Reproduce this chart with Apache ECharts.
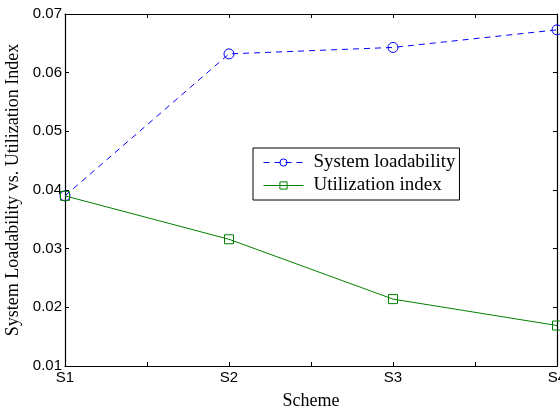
<!DOCTYPE html>
<html>
<head>
<meta charset="utf-8">
<script src="https://cdn.jsdelivr.net/npm/echarts@6/dist/echarts.min.js"></script>
<style>
  html, body { margin: 0; padding: 0; background: #fff; }
  #chart { width: 560px; height: 412px; }
</style>
</head>
<body>
<div id="chart"></div>
<script>
// scheme positions on the x axis and their labels
const schemes = [1, 2, 3, 4];
const schemeLabels = { 1: "S1", 2: "S2", 3: "S3", 4: "S4" };

// values
const loadability = [0.0390, 0.0632, 0.0643, 0.0673];
const utilization = [0.0390, 0.0316, 0.0214, 0.0169];

const chart = echarts.init(document.getElementById("chart"));

function pairs(xs, ys) {
  return xs.map((x, i) => [x, ys[i]]);
}

const axisLine = { show: true, onZero: false, lineStyle: { color: "#000", width: 1.2 } };
const tickInside = { show: true, inside: true, length: 4, lineStyle: { color: "#000" } };
const sansLabel = { fontFamily: "Liberation Sans", fontSize: 15, color: "#000" };
const serifName = { fontFamily: "Liberation Serif", fontSize: 18, color: "#000" };

const option = {
  animation: false,
  grid: { left: 65, right: 3, top: 14, bottom: 46, show: false, outerBoundsMode: "none", containLabel: false },
  legend: {
    orient: "vertical",
    left: 253,
    top: 148,
    itemWidth: 40,
    itemHeight: 9,
    itemGap: 4,
    padding: [5, 4, 5, 10],
    borderColor: "#000",
    borderWidth: 1,
    borderRadius: 0,
    backgroundColor: "#fff",
    lineStyle: { width: 1 },
    itemStyle: { borderWidth: 1 },
    textStyle: { fontFamily: "Liberation Serif", fontSize: 19, lineHeight: 18, color: "#000", padding: [0, 0, 0, 5] },
    data: ["System loadability", "Utilization index"]
  },
  xAxis: [
    {
      type: "value",
      min: 1,
      max: 4,
      interval: 0.5,
      name: "Scheme",
      nameLocation: "middle",
      nameGap: 26,
      nameTextStyle: serifName,
      axisLine: axisLine,
      axisTick: tickInside,
      splitLine: { show: false },
      axisLabel: Object.assign({
        margin: 4,
        formatter: (v) => schemeLabels[v] || ""
      }, sansLabel)
    },
    {
      type: "value",
      position: "top",
      min: 1,
      max: 4,
      interval: 0.5,
      axisLine: axisLine,
      axisTick: tickInside,
      splitLine: { show: false },
      axisLabel: { show: false }
    }
  ],
  yAxis: [
    {
      type: "value",
      min: 0.01,
      max: 0.07,
      interval: 0.01,
      name: "System Loadability vs. Utilization Index",
      nameLocation: "middle",
      nameGap: 41,
      nameTextStyle: serifName,
      axisLine: axisLine,
      axisTick: tickInside,
      splitLine: { show: false },
      axisLabel: Object.assign({
        margin: 3,
        formatter: (v) => v.toFixed(2)
      }, sansLabel)
    },
    {
      type: "value",
      position: "right",
      min: 0.01,
      max: 0.07,
      interval: 0.01,
      axisLine: axisLine,
      axisTick: tickInside,
      splitLine: { show: false },
      axisLabel: { show: false }
    }
  ],
  series: [
    {
      name: "System loadability",
      type: "line",
      data: pairs(schemes, loadability),
      symbol: "circle",
      symbolSize: 10,
      lineStyle: { color: "#0000ff", width: 1, type: [6, 5] },
      itemStyle: { color: "rgba(255,255,255,0)", borderColor: "#0000ff", borderWidth: 1 }
    },
    {
      name: "Utilization index",
      type: "line",
      data: pairs(schemes, utilization),
      symbol: "rect",
      symbolSize: 9,
      lineStyle: { color: "#008000", width: 1 },
      itemStyle: { color: "rgba(255,255,255,0)", borderColor: "#008000", borderWidth: 1 }
    }
  ]
};

chart.setOption(option);
</script>
</body>
</html>
